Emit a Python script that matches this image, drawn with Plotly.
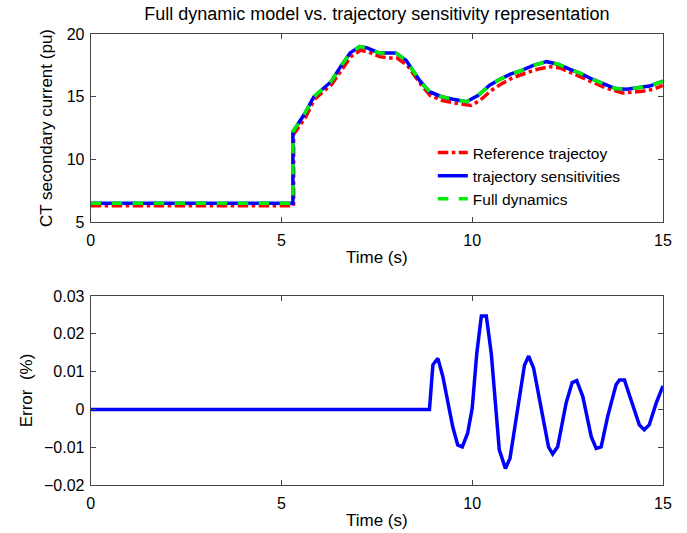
import plotly.graph_objects as go
from plotly.subplots import make_subplots

# Top panel data
t_full = [0, 5.3, 5.3, 5.6, 5.85, 6.1, 6.3, 6.55, 6.8, 7.05, 7.25, 7.55, 7.8, 8.0, 8.27, 8.62, 8.88, 9.2, 9.5, 9.85,
          10.15, 10.45, 10.7, 11.0, 11.3, 11.6, 11.95, 12.25, 12.55, 12.85, 13.15, 13.45, 13.75, 14.05, 14.35, 14.65, 15.0]
v_full = [6.5, 6.5, 12.2, 13.6, 15.0, 15.7, 16.2, 17.4, 18.5, 19.0, 18.9, 18.5, 18.5, 18.5, 17.9, 16.3, 15.4, 15.0, 14.8, 14.6,
          15.1, 15.9, 16.35, 16.8, 17.1, 17.5, 17.8, 17.6, 17.2, 16.85, 16.4, 16.0, 15.65, 15.6, 15.7, 15.85, 16.25]
t_ref = [0, 5.32, 5.32, 5.62, 5.87, 6.12, 6.32, 6.57, 6.82, 7.07, 7.27, 7.57, 7.82, 8.02, 8.3, 8.65, 8.9, 9.22, 9.52, 9.97,
         10.2, 10.5, 10.75, 11.05, 11.35, 11.65, 12.02, 12.3, 12.6, 12.9, 13.2, 13.5, 13.94, 14.2, 14.5, 14.75, 15.0]
v_ref = [6.3, 6.3, 12.0, 13.3, 14.8, 15.5, 16.0, 17.1, 18.2, 18.7, 18.6, 18.2, 18.1, 18.1, 17.5, 16.0, 15.1, 14.7, 14.5, 14.3,
         14.7, 15.5, 16.0, 16.5, 16.8, 17.15, 17.4, 17.3, 16.9, 16.5, 16.1, 15.7, 15.3, 15.35, 15.45, 15.6, 15.9]

# Bottom panel data
t_err = [0, 8.88, 8.97, 9.1, 9.23, 9.49, 9.62, 9.74, 9.88, 10.0, 10.12, 10.24, 10.37, 10.5, 10.71, 10.87, 10.99,
         11.15, 11.37, 11.48, 11.61, 11.85, 12.0, 12.11, 12.24, 12.46, 12.62, 12.74, 12.9, 13.12, 13.25, 13.38,
         13.55, 13.77, 13.86, 13.99, 14.2, 14.38, 14.51, 14.64, 14.82, 15.0]
v_err = [0, 0, 0.0118, 0.0135, 0.0087, -0.0046, -0.0094, -0.0099, -0.0063, 0.0003, 0.0148, 0.0247, 0.0247, 0.0148,
         -0.0107, -0.0156, -0.013, -0.002, 0.0117, 0.0141, 0.0109, -0.0019, -0.0099, -0.0118, -0.0099, 0.0016,
         0.0071, 0.0076, 0.0034, -0.0072, -0.0103, -0.0099, -0.0019, 0.0065, 0.0078, 0.0078, 0.0016, -0.0041,
         -0.0054, -0.0041, 0.0016, 0.0062]

FONT = "Liberation Sans, Arial, sans-serif"
TICK = 16
LAB = 17

fig = make_subplots(rows=2, cols=1)
fig.add_trace(go.Scatter(x=t_ref, y=v_ref, mode="lines", name="Reference trajectoy",
                         line=dict(color="#ff0000", width=3.5, dash="dashdot")), row=1, col=1)
fig.add_trace(go.Scatter(x=t_full, y=v_full, mode="lines", name="trajectory sensitivities",
                         line=dict(color="#0000ff", width=3.5)), row=1, col=1)
fig.add_trace(go.Scatter(x=t_full, y=v_full, mode="lines", name="Full dynamics",
                         line=dict(color="#00ee00", width=3.5, dash="dash")), row=1, col=1)
fig.add_trace(go.Scatter(x=t_err, y=v_err, mode="lines", showlegend=False,
                         line=dict(color="#0000ff", width=3.5)), row=2, col=1)

axis_common = dict(showline=True, linecolor="#444", linewidth=1, mirror="ticks", ticks="inside",
                   ticklen=5, tickcolor="#444", showgrid=False, zeroline=False, automargin=False,
                   tickfont=dict(family=FONT, size=TICK, color="black"))

fig.update_xaxes(**axis_common, ticklabelstandoff=4)
fig.update_yaxes(**axis_common, ticklabelstandoff=2)

title_font = dict(family=FONT, size=LAB, color="black")
fig.update_xaxes(domain=[0.132, 0.965], range=[0, 15], dtick=5,
                 title=dict(text="Time (s)", font=title_font, standoff=2), row=1, col=1)
fig.update_xaxes(domain=[0.132, 0.965], range=[0, 15], dtick=5,
                 title=dict(text="Time (s)", font=title_font, standoff=2), row=2, col=1)
fig.update_yaxes(domain=[0.5835, 0.936], range=[5, 20], dtick=5,
                 title=dict(text="CT secondary current (pu)", font=title_font, standoff=9), row=1, col=1)
fig.update_yaxes(domain=[0.090, 0.4447], range=[-0.02, 0.03], dtick=0.01,
                 title=dict(text="Error  (%)", font=title_font, standoff=7), row=2, col=1)

fig.update_layout(
    width=687, height=533,
    margin=dict(l=0, r=0, t=0, b=0),
    paper_bgcolor="white", plot_bgcolor="white",
    font=dict(family=FONT, size=TICK, color="black"),
    title=dict(text="Full dynamic model vs. trajectory sensitivity representation",
               x=0.5485, xanchor="center", y=0.974, yanchor="middle",
               font=dict(family=FONT, size=18, color="black")),
    legend=dict(x=0.63, y=0.745, xanchor="left", yanchor="top", bgcolor="rgba(255,255,255,0)",
                font=dict(family=FONT, size=15.5, color="black"), tracegroupgap=0),
)

fig.write_html("out.html", post_script="document.body.style.margin='0';",
               config={"displayModeBar": False})
